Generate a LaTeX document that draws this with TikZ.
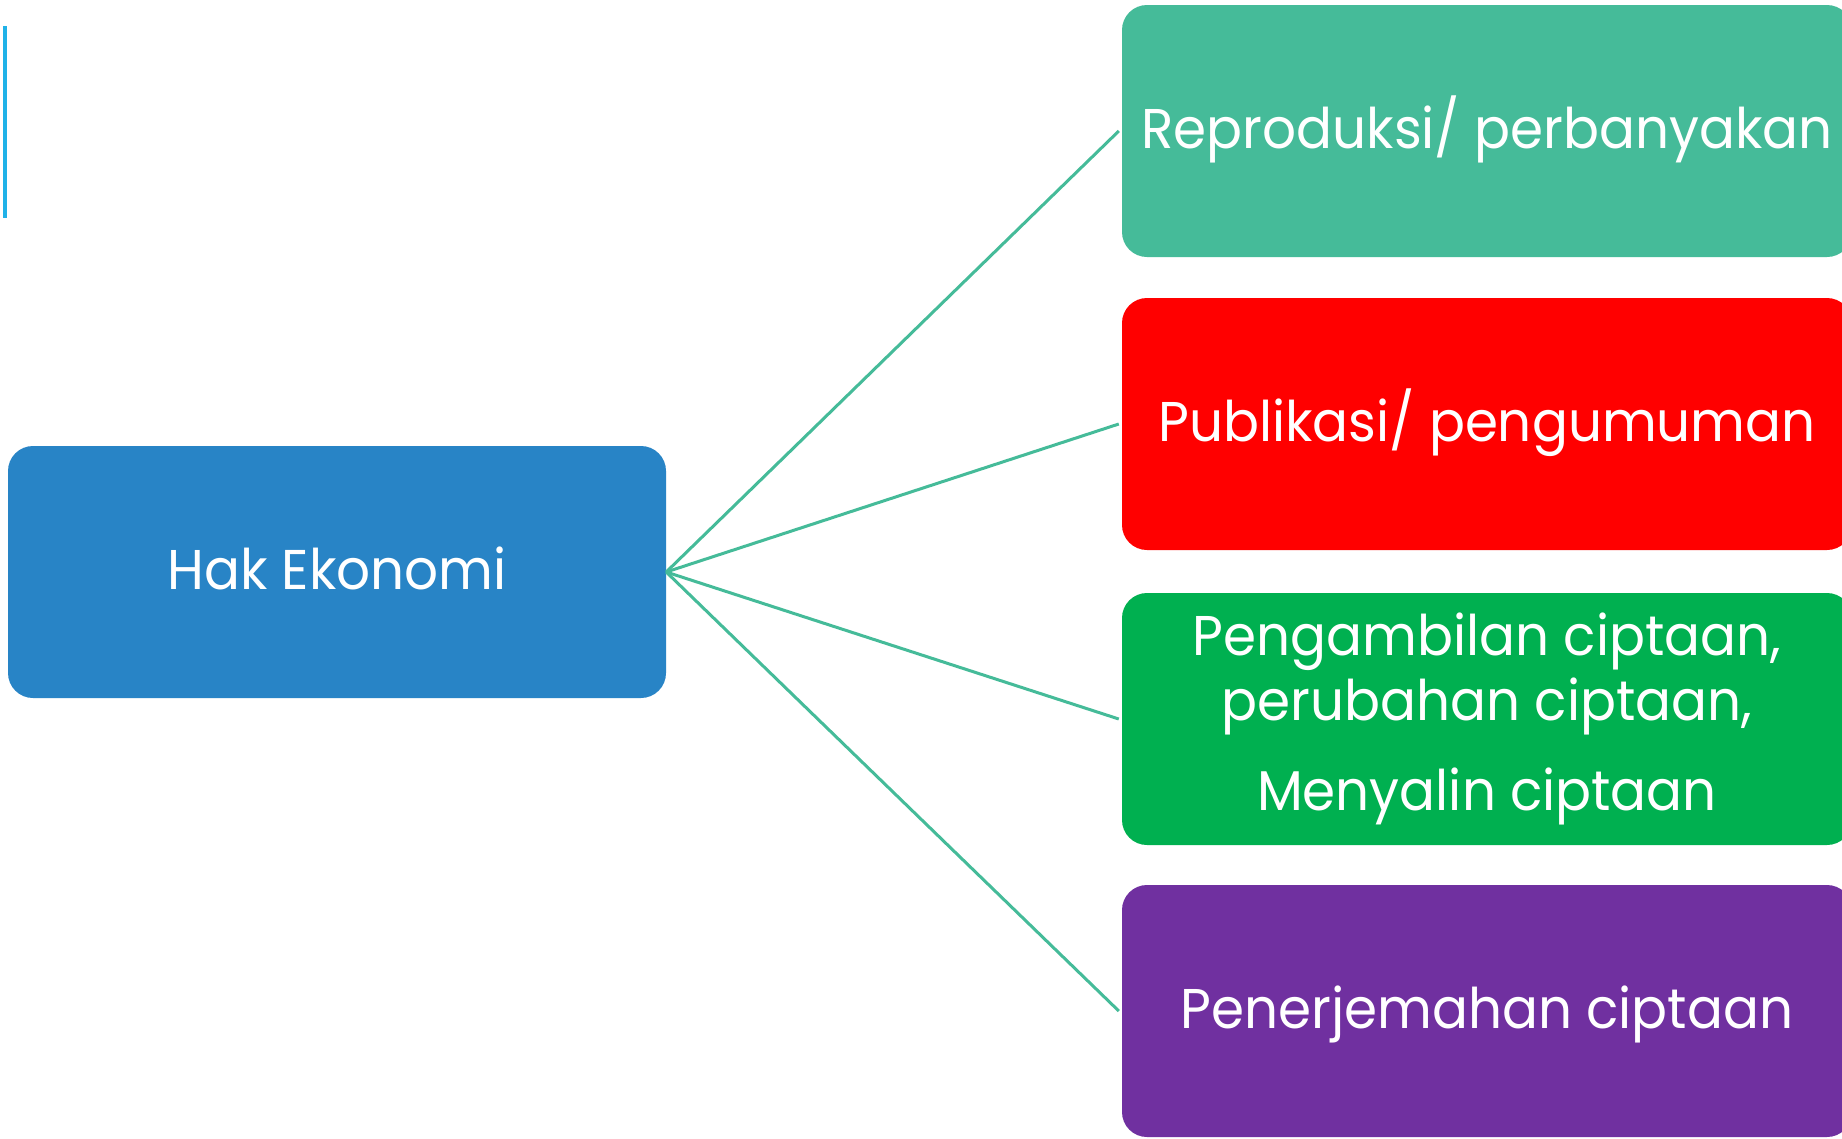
\documentclass[tikz,border=0pt]{standalone}
\usepackage{fontspec}
\newfontfamily\boxfont[FakeStretch=0.95]{Poppins}
\definecolor{cteal}{HTML}{45BB99}
\definecolor{cred}{HTML}{FF0000}
\definecolor{cgreen}{HTML}{00B050}
\definecolor{cpurple}{HTML}{7030A0}
\definecolor{cblue}{HTML}{2884C6}
\definecolor{cline}{HTML}{20B2E8}
\tikzset{
  boxbase/.style={rectangle, rounded corners=25pt, inner sep=0pt, text=white,
    font=\boxfont\fontsize{56}{65}\selectfont, align=center},
  box/.style={boxbase, text height=44pt, text depth=10pt},
  rsize/.style={minimum width=730pt, minimum height=252pt},
  conn/.style={draw=cteal, line width=3pt},
}
\begin{document}
\begin{tikzpicture}[x=1pt,y=-1pt]
\useasboundingbox (0,0) rectangle (1842,1138);
\fill[white] (0,0) rectangle (1842,1138);
\draw[cline, line width=4pt] (5,26) -- (5,218);
\node[box, fill=cblue, minimum width=658pt, minimum height=252pt] (hak) at (337,572) {Hak Ekonomi};
\node[box, rsize, fill=cteal] (r1) at (1487,131) {Reproduksi/ perbanyakan};
\node[box, rsize, fill=cred] (r2) at (1487,424) {Publikasi/ pengumuman};
\node[boxbase, rsize, fill=cgreen] (r3) at (1487,719) {Pengambilan ciptaan,\\ perubahan ciptaan,\\[25pt] Menyalin ciptaan};
\node[box, rsize, fill=cpurple] (r4) at (1487,1011) {Penerjemahan ciptaan};
\foreach \t in {r1,r2,r3,r4}{
  \draw[conn] (hak.east) -- ([xshift=-3pt]\t.west);
}
\end{tikzpicture}
\end{document}
